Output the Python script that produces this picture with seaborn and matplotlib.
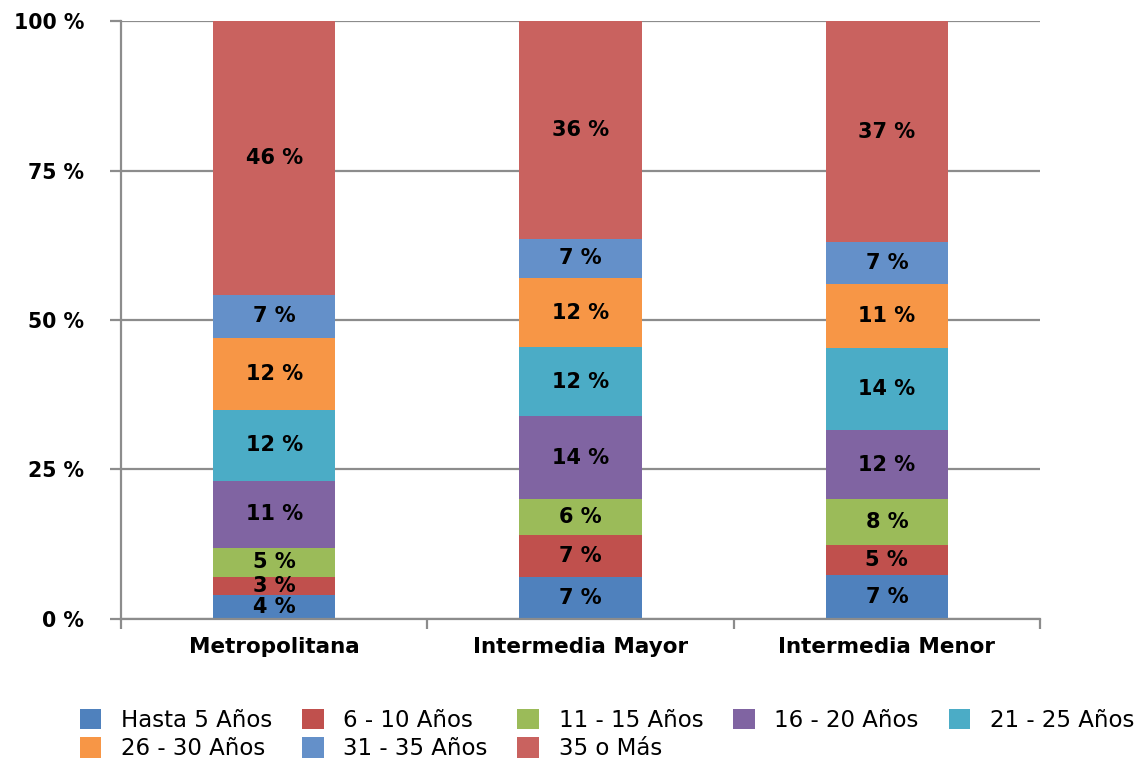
import numpy as np
import pandas as pd
import matplotlib
matplotlib.use("Agg")
import matplotlib.pyplot as plt
from matplotlib.patches import Patch
from matplotlib.ticker import FixedLocator
import seaborn as sns

categories = ["Metropolitana", "Intermedia Mayor", "Intermedia Menor"]
series_names = ["Hasta 5 Años", "6 - 10 Años", "11 - 15 Años", "16 - 20 Años",
                "21 - 25 Años", "26 - 30 Años", "31 - 35 Años", "35 o Más"]
hasta5 = [4.0, 7.0, 7.3]
a6_10 = [3.0, 7.0, 5.0]
a11_15 = [4.9, 6.0, 7.7]
a16_20 = [11.2, 13.9, 11.6]
a21_25 = [11.9, 11.6, 13.8]
a26_30 = [12.0, 11.5, 10.7]
a31_35 = [7.2, 6.6, 6.9]
a35_mas = [45.8, 36.4, 37.0]
y_ticks = [0, 25, 50, 75, 100]
y_tick_labels = ["0 %", "25 %", "50 %", "75 %", "100 %"]

colors = ["#4F81BD", "#C0504D", "#9BBB59", "#8064A2",
          "#4BACC6", "#F79646", "#6490C9", "#C9625F"]

series = [hasta5, a6_10, a11_15, a16_20, a21_25, a26_30, a31_35, a35_mas]
vals = np.array(series)
cum = np.cumsum(vals, axis=0)

sns.set_style("white")
plt.rcParams["font.family"] = ["DejaVu Sans"]
plt.rcParams["text.color"] = "black"

fig = plt.figure(figsize=(11.43, 7.62), dpi=100)
ax = fig.add_axes([0.1059, 0.1877, 0.804, 0.7847])

grid_c = "#8C8C8C"
for yv in y_ticks:
    ax.axhline(yv, color=grid_c, lw=1.6, zorder=0)

# overlay cumulative bars, tallest first
for i in range(len(series) - 1, -1, -1):
    df = pd.DataFrame({"cat": categories, "val": cum[i]})
    sns.barplot(data=df, x="cat", y="val", color=colors[i], saturation=1,
                width=0.4, linewidth=0, ax=ax, zorder=2, errorbar=None)

# labels at segment centres
for i in range(len(series)):
    for j in range(len(categories)):
        yc = cum[i][j] - vals[i][j] / 2
        ax.text(j, yc, f"{int(round(vals[i][j]))} %", ha="center", va="center",
                fontsize=15, fontweight="bold", color="black", zorder=5)

ax.set_ylim(0, 100)
ax.set_xlim(-0.5, 2.5)
ax.set_xlabel("")
ax.set_ylabel("")
ax.set_yticks(y_ticks)
ax.set_yticklabels(y_tick_labels, fontsize=14.8, fontweight="bold")
ax.set_xticks(range(len(categories)))
ax.set_xticklabels(categories, fontsize=15.5, fontweight="bold")
ax.xaxis.set_minor_locator(FixedLocator([-0.5, 0.5, 1.5, 2.5]))
ax.tick_params(axis="x", which="major", length=0, pad=13, labelcolor="black")
ax.tick_params(axis="x", which="minor", length=7, width=1.6, color=grid_c, direction="out", bottom=True)
ax.tick_params(axis="y", which="major", length=8, width=1.6, color=grid_c, direction="out", pad=18.5,
               left=True, labelcolor="black")

for s in ["top", "right"]:
    ax.spines[s].set_visible(False)
for s in ["left", "bottom"]:
    ax.spines[s].set_color(grid_c)
    ax.spines[s].set_linewidth(1.6)
    ax.spines[s].set_zorder(3)

handles = [Patch(facecolor=c, edgecolor="none") for c in colors]
order = [0, 5, 1, 6, 2, 7, 3, 4]
fig.legend([handles[k] for k in order], [series_names[k] for k in order],
           loc="center", bbox_to_anchor=(0.531, 0.036), ncol=5, frameon=False,
           fontsize=16.5, handlelength=0.95, handleheight=1.0, handletextpad=0.85,
           columnspacing=1.3, labelspacing=0.22, borderpad=0, labelcolor="black")

fig.savefig("out.png", dpi=100)
